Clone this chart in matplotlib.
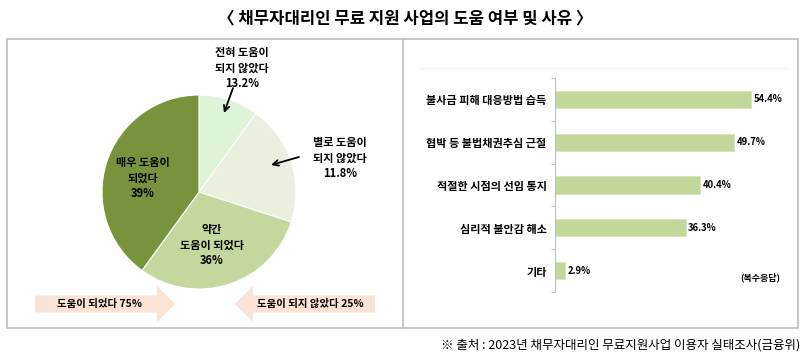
import numpy as np
import matplotlib
matplotlib.use('Agg')
import matplotlib.pyplot as plt
from matplotlib.patches import FancyArrow, Rectangle

plt.rcParams['font.family'] = ['Noto Sans CJK KR', 'DejaVu Sans']

# pie data (wedge shares as drawn, labels as printed)
pie_names = ['전혀 도움이\n되지 않았다', '별로 도움이\n되지 않았다', '약간\n도움이 되었다', '매우 도움이\n되었다']
pie_shares = [10, 20, 30, 40]
pie_pct = ['13.2%', '11.8%', '36%', '39%']
pie_colors = ['#ddf5d6', '#ebefdf', '#c4d89d', '#77933c']

# bar data
bar_cats = ['불사금 피해 대응방법 습득', '협박 등 불법채권추심 근절', '적절한 시점의 선임 통지',
            '심리적 불안감 해소', '기타']
bar_vals = [54.4, 49.7, 40.4, 36.3, 2.9]

W, H = 809, 357
fig = plt.figure(figsize=(W / 100, H / 100), dpi=100)
fig.patch.set_facecolor('white')

# pie
pax = fig.add_axes([102 / W, (H - 289) / H, 194 / W, 194 / H])
pax.pie(pie_shares, colors=pie_colors, startangle=90, counterclock=False,
        wedgeprops=dict(edgecolor='white', linewidth=0.8))
pax.set_xlim(-1, 1)
pax.set_ylim(-1, 1)

# bars
bax = fig.add_axes([555 / W, (H - 292) / H, 234 / W, 214 / H])
y = np.arange(len(bar_cats))
bax.barh(y, bar_vals, height=0.4, color='#c4d79b', edgecolor='#d4e2b6', lw=0.5)
bax.set_xlim(0, 65)
bax.set_ylim(len(bar_cats) - 0.5, -0.5)
for s in ['top', 'right', 'bottom']:
    bax.spines[s].set_visible(False)
bax.spines['left'].set_color('#bfbfbf')
bax.set_xticks([])
bax.set_yticks(np.arange(len(bar_cats) + 1) - 0.5)
bax.set_yticklabels([])
bax.tick_params(axis='y', which='major', length=3, color='#bfbfbf')
bax.set_yticks(y, minor=True)
bax.set_yticklabels(bar_cats, minor=True, fontsize=8, fontweight='bold')
bax.tick_params(axis='y', which='minor', length=0, pad=6)
for yi, v in zip(y, bar_vals):
    bax.text(v + 0.7, yi, f'{v}%', va='center', ha='left', fontsize=6.8, fontweight='bold')

# overlay axes in pixel coords, on top
bg = fig.add_axes([0, 0, 1, 1])
bg.set_xlim(0, W)
bg.set_ylim(H, 0)
bg.axis('off')
bg.patch.set_visible(False)
bg.set_zorder(5)

bg.text(405, 18, '〈 채무자대리인 무료 지원 사업의 도움 여부 및 사유 〉', ha='center', va='center',
        fontsize=12, fontweight='bold')
bg.add_patch(Rectangle((7, 39), 791, 289, fill=False, edgecolor='#bfbfbf', lw=1.2))
bg.plot([403, 403], [39, 328], color='#bfbfbf', lw=1.2)
bg.plot([420, 788], [68, 68], color='#f0f0f0', lw=0.8)

bg.text(800, 345, '※ 출처 : 2023년 채무자대리인 무료지원사업 이용자 실태조사(금융위)', ha='right',
        va='center', fontsize=9)

lbl = dict(ha='center', va='center', fontsize=8, fontweight='bold', linespacing=1.25)
bg.text(242, 68, pie_names[0] + '\n' + pie_pct[0], **lbl)
bg.text(340, 158, pie_names[1] + '\n' + pie_pct[1], **lbl)
bg.text(212, 245, pie_names[2] + '\n' + pie_pct[2], **lbl)
bg.text(143, 178, pie_names[3] + '\n' + pie_pct[3], **lbl)

arw = dict(arrowstyle='->', color='black', lw=1.3, shrinkA=0, shrinkB=0)
bg.annotate('', xy=(224, 113), xytext=(233, 88), arrowprops=arw)
bg.annotate('', xy=(271, 165), xytext=(299, 157), arrowprops=arw)

peach = '#fbe4d5'
bg.add_patch(FancyArrow(35, 304, 140, 0, width=17, head_width=36, head_length=18,
                        length_includes_head=True, color=peach, lw=0))
bg.add_patch(FancyArrow(375, 304, -140, 0, width=17, head_width=36, head_length=18,
                        length_includes_head=True, color=peach, lw=0))
bg.text(100, 304, '도움이 되었다 75%', ha='center', va='center', fontsize=7.5, fontweight='bold')
bg.text(310, 304, '도움이 되지 않았다 25%', ha='center', va='center', fontsize=7.5, fontweight='bold')
bg.text(760, 277, '(복수응답)', ha='center', va='center', fontsize=6.5, fontweight='bold')

fig.savefig('out.png', dpi=100)
